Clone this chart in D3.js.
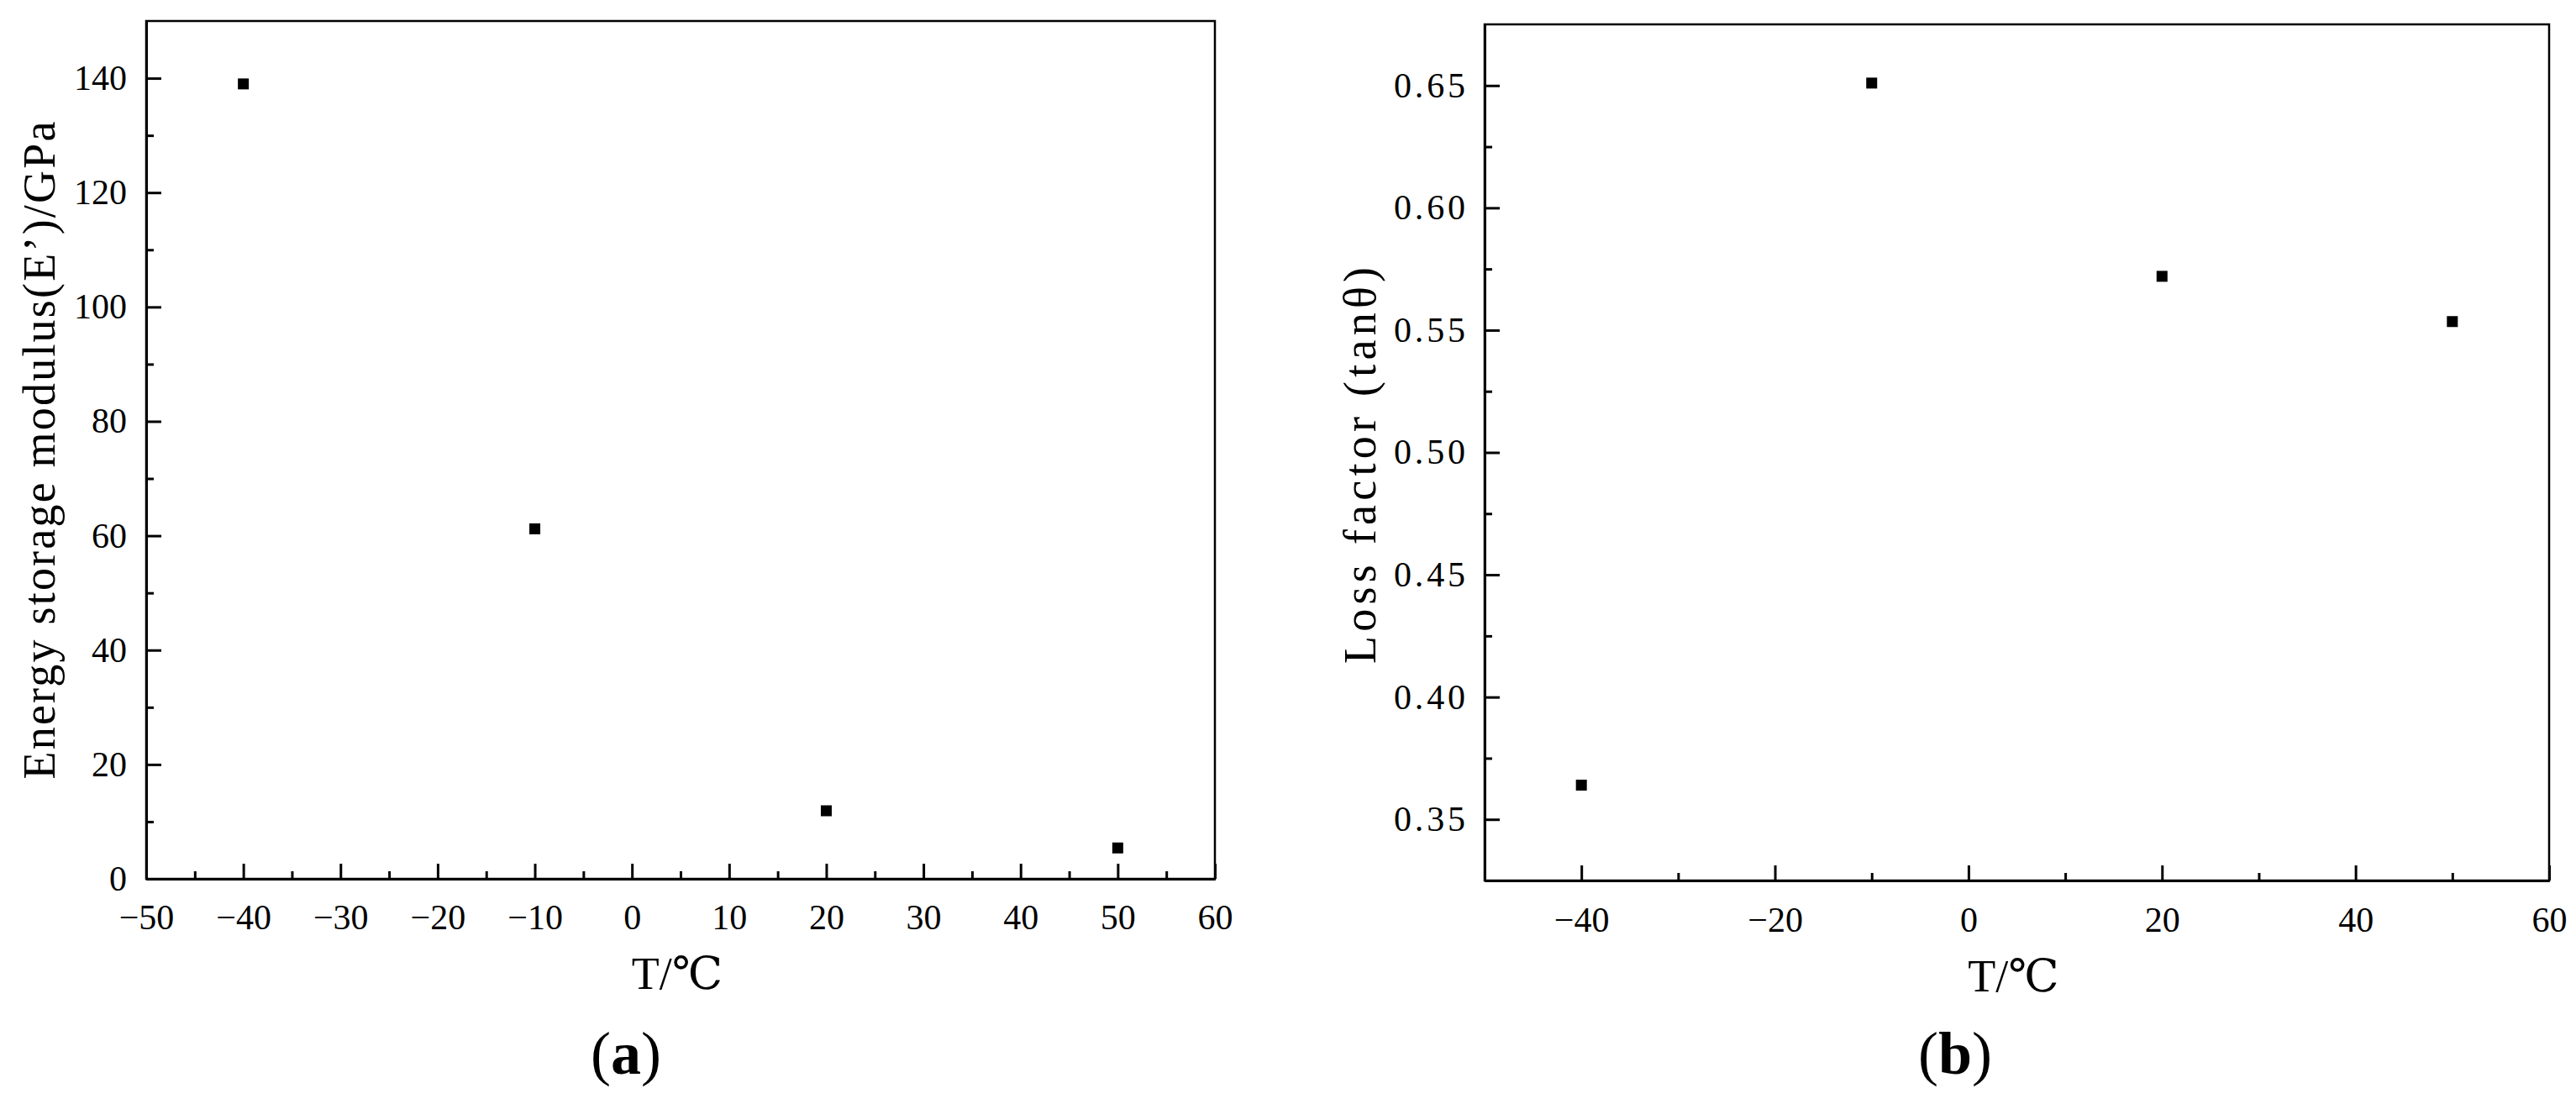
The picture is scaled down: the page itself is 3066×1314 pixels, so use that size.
<!DOCTYPE html>
<html>
<head>
<meta charset="utf-8">
<script src="https://cdn.jsdelivr.net/npm/d3@7"></script>
<style>
  body { margin: 0; background: #fff; }
  svg { display: block; font-family: "Liberation Serif", "Times New Roman", "DejaVu Serif", serif; }
  .axis { font-family: "Liberation Serif", "Times New Roman", serif; }
  .axis path, .axis line { stroke: #000; stroke-width: 3; }
  .axis text { font-size: 42px; fill: #000; }
</style>
</head>
<body>
<svg id="chart" width="3066" height="1314"></svg>
<script>
// data
var temps = [-40, -10, 20, 50];
var storageModulus = [139, 61.2, 11.9, 5.4];   // GPa
var lossFactor = [0.364, 0.651, 0.572, 0.5535];

// ticks
var xMajorA = [-50, -40, -30, -20, -10, 0, 10, 20, 30, 40, 50, 60];
var xMinorA = [-45, -35, -25, -15, -5, 5, 15, 25, 35, 45, 55];
var yMajorA = [0, 20, 40, 60, 80, 100, 120, 140];
var yMinorA = [10, 30, 50, 70, 90, 110, 130];
var xMajorB = [-40, -20, 0, 20, 40, 60];
var xMinorB = [-30, -10, 10, 30, 50];
var yMajorB = [0.35, 0.40, 0.45, 0.50, 0.55, 0.60, 0.65];
var yMinorB = [0.375, 0.425, 0.475, 0.525, 0.575, 0.625];

var svg = d3.select("#chart");

//draws one panel: frame, inward ticks, square markers and labels
function drawPanel(cfg) {
    var x = d3.scaleLinear().domain(cfg.xDomain).range([cfg.left, cfg.right]);
    var y = d3.scaleLinear().domain(cfg.yDomain).range([cfg.bottom, cfg.top]);
    var g = svg.append("g");

    //frame (top and right sides)
    g.append("rect")
        .attr("x", cfg.left).attr("y", cfg.top)
        .attr("width", cfg.right - cfg.left).attr("height", cfg.bottom - cfg.top)
        .attr("fill", "none").attr("stroke", "#000").attr("stroke-width", 2.5);

    //minor ticks first
    g.append("g").attr("class", "axis")
        .attr("transform", "translate(0," + cfg.bottom + ")")
        .call(d3.axisBottom(x).tickValues(cfg.xMinor).tickSizeInner(-9).tickSizeOuter(0).tickFormat(""));
    g.append("g").attr("class", "axis")
        .attr("transform", "translate(" + cfg.left + ",0)")
        .call(d3.axisLeft(y).tickValues(cfg.yMinor).tickSizeInner(-9).tickSizeOuter(0).tickFormat(""));

    //major ticks with labels
    g.append("g").attr("class", "axis")
        .attr("transform", "translate(0," + cfg.bottom + ")")
        .call(d3.axisBottom(x).tickValues(cfg.xMajor).tickSizeInner(-18).tickSizeOuter(0).tickPadding(cfg.xPad));
    var yAxisG = g.append("g").attr("class", "axis")
        .attr("transform", "translate(" + cfg.left + ",0)")
        .call(d3.axisLeft(y).tickValues(cfg.yMajor).tickSizeInner(-18).tickSizeOuter(0)
            .tickPadding(23).tickFormat(cfg.yFormat));
    if (cfg.yLabelLen) {
        yAxisG.selectAll("text").attr("textLength", cfg.yLabelLen).attr("lengthAdjust", "spacing");
    }

    //markers
    g.append("g").selectAll("rect")
        .data(temps.map(function(t, i) { return [t, cfg.values[i]]; }))
        .enter().append("rect")
        .attr("x", function(d) { return x(d[0]) - 6.5; })
        .attr("y", function(d) { return y(d[1]) - 6.5; })
        .attr("width", 13).attr("height", 13)
        .attr("fill", "#000");

    //y title
    g.append("text")
        .attr("transform", "translate(" + cfg.yTitleX + "," + cfg.yTitleY + ") rotate(-90)")
        .attr("text-anchor", "middle")
        .attr("font-size", 54)
        .attr("textLength", cfg.yTitleLen).attr("lengthAdjust", "spacing")
        .style("white-space", "pre")
        .text(cfg.yTitle);

    //x title
    g.append("text")
        .attr("x", (cfg.left + cfg.right) / 2 - 4)
        .attr("y", cfg.xTitleY)
        .attr("text-anchor", "middle")
        .attr("font-size", 54)
        .text("T/℃");

    //panel letter
    var cap = g.append("text")
        .attr("x", cfg.capX).attr("y", 1278)
        .attr("text-anchor", "middle")
        .attr("font-size", 72);
    cap.append("tspan").text("(");
    cap.append("tspan").attr("font-weight", "bold").text(cfg.letter);
    cap.append("tspan").text(")");
}

drawPanel({
    left: 174, right: 1446, top: 25, bottom: 1046,
    xDomain: [-50, 60], yDomain: [0, 150],
    xMajor: xMajorA, xMinor: xMinorA, yMajor: yMajorA, yMinor: yMinorA,
    xPad: 30, yFormat: d3.format("d"),
    values: storageModulus,
    yTitle: "Energy storage modulus(E’)/GPa", yTitleX: 65, yTitleY: 536, yTitleLen: 783,
    xTitleY: 1177, capX: 745, letter: "a"
});

drawPanel({
    left: 1767, right: 3034, top: 29, bottom: 1048,
    xDomain: [-50, 60], yDomain: [0.325, 0.675],
    xMajor: xMajorB, xMinor: xMinorB, yMajor: yMajorB, yMinor: yMinorB,
    xPad: 31, yFormat: d3.format(".2f"), yLabelLen: 85,
    values: lossFactor,
    yTitle: "Loss factor (tanθ)", yTitleX: 1637, yTitleY: 554, yTitleLen: 472,
    xTitleY: 1180, capX: 2327, letter: "b"
});
</script>
</body>
</html>
